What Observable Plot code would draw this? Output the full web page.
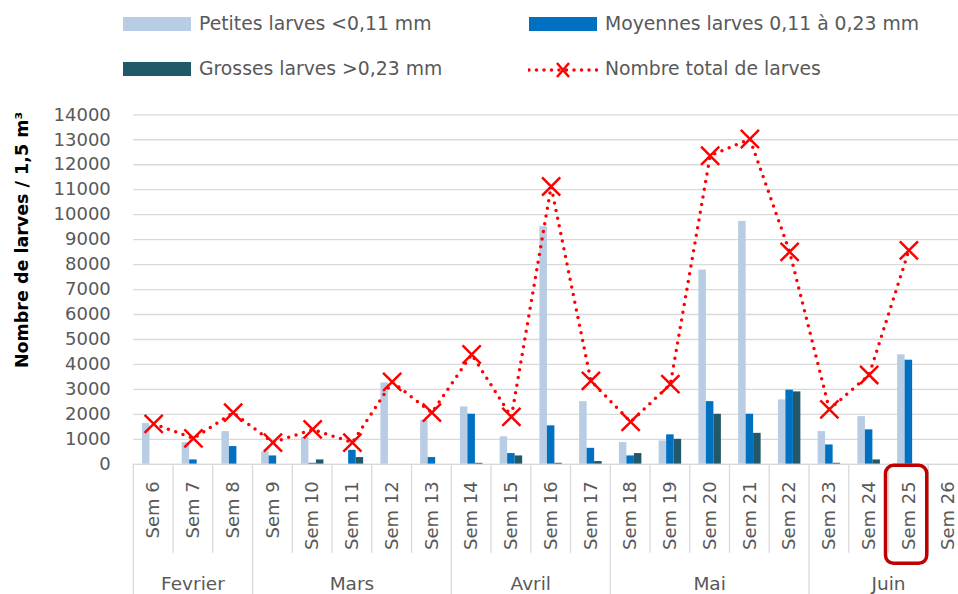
<!DOCTYPE html>
<html><head><meta charset="utf-8">
<script src="https://cdn.jsdelivr.net/npm/d3@7"></script>
<script src="https://cdn.jsdelivr.net/npm/@observablehq/plot@0.6"></script>
<style>
html,body{margin:0;padding:0;overflow:hidden;background:#fff;}
body{font-family:"DejaVu Sans",sans-serif;}
#wrap{position:relative;width:958px;height:594px;overflow:hidden;}
#legend{position:relative;width:958px;height:100px;}
.sw{position:absolute;width:68px;height:14px;}
.lt{position:absolute;font-size:18.8px;line-height:20px;color:#595959;white-space:nowrap;}
#chart svg{overflow:hidden;}
</style></head>
<body><div id="wrap"><div id="legend"></div><div id="chart"></div></div>
<script>
const weeks = ["Sem 6","Sem 7","Sem 8","Sem 9","Sem 10","Sem 11","Sem 12","Sem 13","Sem 14","Sem 15","Sem 16","Sem 17","Sem 18","Sem 19","Sem 20","Sem 21","Sem 22","Sem 23","Sem 24","Sem 25","Sem 26"];
const petites  = [1630, 870, 1310, 495, 1080, 0, 3260, 1765, 2300, 1100, 9520, 2510, 870, 935, 7780, 9730, 2580, 1310, 1910, 4385, 0];
const moyennes = [0, 175, 710, 335, 40, 560, 0, 270, 2005, 430, 1540, 640, 335, 1180, 2510, 2005, 2970, 775, 1380, 4170, 0];
const grosses  = [0, 0, 0, 0, 175, 270, 0, 0, 40, 335, 40, 110, 430, 1000, 2005, 1240, 2900, 40, 175, 0, 0];
const totals   = [1620, 1040, 2070, 870, 1400, 870, 3300, 2070, 4400, 1900, 11130, 3340, 1700, 3210, 12360, 13030, 8510, 2200, 3580, 8570, null];
const months = [
  {name: "Fevrier", first: "Sem 6", last: "Sem 8"},
  {name: "Mars", first: "Sem 9", last: "Sem 13"},
  {name: "Avril", first: "Sem 14", last: "Sem 17"},
  {name: "Mai", first: "Sem 18", last: "Sem 22"},
  {name: "Juin", first: "Sem 23", last: "Sem 26"}
];
const yTicks = d3.range(0, 14001, 1000);
const highlightWeek = "Sem 25";
const seriesNames = ["Petites larves <0,11 mm", "Moyennes larves 0,11 à 0,23 mm", "Grosses larves >0,23 mm", "Nombre total de larves"];
const colors = ["#B8CCE4", "#0070C0", "#215968", "#FF0000"];

// legend
const legend = document.getElementById("legend");
const legPos = [[123, 17], [529, 17], [123, 62], [529, 62]];
seriesNames.forEach((name, i) => {
  const [lx, ly] = legPos[i];
  if (i < 3) {
    const s = document.createElement("div");
    s.className = "sw"; s.style.left = lx + "px"; s.style.top = ly + "px"; s.style.background = colors[i];
    legend.appendChild(s);
  } else {
    const ns = "http://www.w3.org/2000/svg";
    const svg = document.createElementNS(ns, "svg");
    svg.setAttribute("width", 70); svg.setAttribute("height", 20);
    svg.style.position = "absolute"; svg.style.left = (lx - 1) + "px"; svg.style.top = (ly - 2) + "px";
    svg.innerHTML = `<line x1="1" x2="69" y1="10" y2="10" stroke="${colors[3]}" stroke-width="3.5" stroke-dasharray="0 7.5" stroke-linecap="round"/>
      <path d="M29,3L41,17M41,3L29,17" stroke="${colors[3]}" stroke-width="2.5" fill="none"/>`;
    legend.appendChild(svg);
  }
  const t = document.createElement("div");
  t.className = "lt"; t.textContent = name;
  t.style.left = (lx + 76) + "px"; t.style.top = (ly - 3.5) + "px";
  legend.appendChild(t);
});

// data table
const bars = [];
weeks.forEach((w, i) => {
  bars.push({week: w, s: 0, v: petites[i]});
  bars.push({week: w, s: 1, v: moyennes[i]});
  bars.push({week: w, s: 2, v: grosses[i]});
});
const line = weeks.map((w, i) => ({week: w, v: totals[i]})).filter(d => d.v != null);

const W = 958, H = 494, mL = 133.3, mR = -10, mT = 14.3, mB = 130.2;
const bw = (W - mL - mR) / weeks.length;
const barW = 7.5, groupW = 3 * barW, pad = (bw - groupW) / 2;

const barMark = (k) => Plot.barY(bars.filter(d => d.s === k && d.v > 0), {
  x: "week", y: "v", fill: colors[k],
  insetLeft: pad + k * barW, insetRight: bw - pad - (k + 1) * barW
});

const plot = Plot.plot({
  width: W, height: H,
  marginLeft: mL, marginRight: mR, marginTop: mT, marginBottom: mB,
  style: {fontFamily: "DejaVu Sans, sans-serif", fontSize: "18px", color: "#595959", background: "transparent"},
  x: {type: "band", domain: weeks, padding: 0, round: false, label: null},
  y: {domain: [0, 14000], label: null},
  marks: [
    Plot.ruleY(yTicks, {stroke: "#D9D9D9", strokeWidth: 1.3, strokeOpacity: 1}),
    Plot.axisY({ticks: yTicks, tickSize: 0, tickPadding: 23, fontSize: 18, fill: "#595959", label: null, tickFormat: d => String(d)}),
    Plot.axisX({tickSize: 0, tickRotate: -90, tickPadding: 17, fontSize: 18, fill: "#595959", label: null}),
    barMark(0), barMark(1), barMark(2),
    Plot.line(line, {x: "week", y: "v", curve: "linear", stroke: colors[3], strokeWidth: 3.5, strokeDasharray: "0 7.8", strokeLinecap: "round"}),
    Plot.dot(line, {x: "week", y: "v", symbol: "times", r: 8.3, stroke: colors[3], strokeWidth: 2.5})
  ]
});
document.getElementById("chart").appendChild(plot);

// two-level category axis, drawn from Plot's own scales
const xs = plot.scale("x"), ys = plot.scale("y");
const band = xs.bandwidth;
const y0 = ys.apply(0);
const svg = d3.select(plot);
const g = svg.append("g").attr("stroke", "#D9D9D9").attr("stroke-width", 1.3);
const monthStarts = new Set(months.map(m => m.first));
weeks.forEach((w, i) => {
  const x = xs.apply(w);
  g.append("line").attr("x1", x).attr("x2", x).attr("y1", y0).attr("y2", monthStarts.has(w) ? H : y0 + 89);
});
g.append("line").attr("x1", xs.apply(weeks[0])).attr("x2", W).attr("y1", y0 + 0.5).attr("y2", y0 + 0.5);
const mg = svg.append("g").attr("fill", "#595959").attr("font-size", 18.5).attr("text-anchor", "middle");
months.forEach(m => {
  const cx = (xs.apply(m.first) + xs.apply(m.last) + band) / 2;
  mg.append("text").attr("x", cx).attr("y", 490).text(m.name);
});
// highlight
svg.append("rect")
  .attr("x", xs.apply(highlightWeek) - 3).attr("y", y0 + 1.5)
  .attr("width", band + 1.5).attr("height", 98)
  .attr("rx", 8).attr("fill", "none").attr("stroke", "#C00000").attr("stroke-width", 3.5);
// y title
svg.append("text")
  .attr("transform", "translate(28,140) rotate(-90)")
  .attr("text-anchor", "middle").attr("font-weight", "bold").attr("font-size", 17.5)
  .attr("fill", "#000").text("Nombre de larves / 1,5 m³");
</script></body></html>
